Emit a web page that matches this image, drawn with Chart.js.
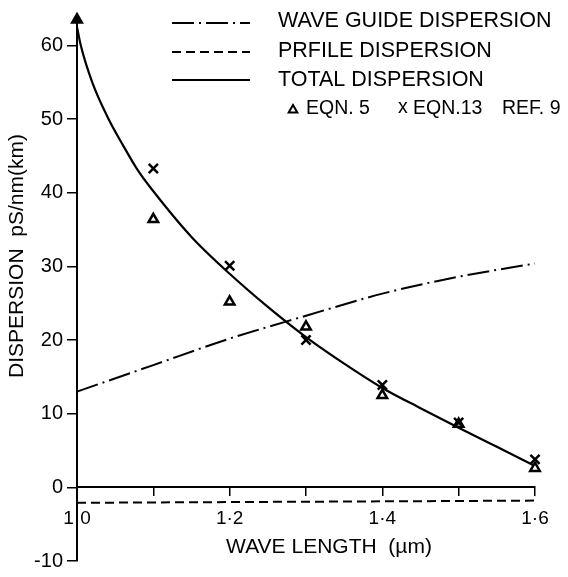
<!DOCTYPE html>
<html>
<head>
<meta charset="utf-8">
<script src="https://cdn.jsdelivr.net/npm/chart.js@4/dist/chart.umd.min.js"></script>
<style>
  html,body{margin:0;padding:0;background:#fff;}
  #wrap{width:568px;height:577px;position:relative;}
</style>
</head>
<body>
<div id="wrap"><canvas id="c" width="568" height="577"></canvas></div>
<script>
// ---- data ----
const waveLength      = [1.0, 1.1, 1.2, 1.3, 1.4, 1.5, 1.6];
const waveguideDisp   = [13.0, 16.6, 20.2, 23.3, 26.3, 28.6, 30.4];
const profileWl       = [1.0, 1.6];
const profileDisp     = [-2.1, -1.8];
const totalWl   = [1.0, 1.005, 1.02, 1.04, 1.06, 1.08, 1.1, 1.15, 1.2, 1.25, 1.3, 1.35, 1.4, 1.45, 1.5, 1.55, 1.6];
const totalDisp = [62.5, 60.0, 55.0, 50.3, 46.5, 43.0, 40.2, 34.0, 29.0, 24.5, 20.4, 16.8, 13.5, 10.75, 8.1, 5.5, 2.9];
const eqn5Wl    = [1.0, 1.1, 1.2, 1.3, 1.4, 1.5, 1.6];
const eqn5Disp  = [63.5, 36.4, 25.2, 21.8, 12.5, 8.6, 2.6];
const eqn13Wl   = [1.1, 1.2, 1.3, 1.4, 1.5, 1.6];
const eqn13Disp = [43.3, 30.1, 20.0, 13.9, 8.8, 3.8];
const yTicks    = [-10, 0, 10, 20, 30, 40, 50, 60];
const seriesLabels = ['WAVE GUIDE DISPERSION', 'PRFILE DISPERSION', 'TOTAL DISPERSION'];
const markerLabels = ['EQN. 5', 'x', 'EQN.13', 'REF. 9'];
const xTitle = 'WAVE LENGTH  (\u00B5m)';
const yTitle = 'DISPERSION  pS/nm(km)';

const pts = (xs, ys) => xs.map((x, i) => ({x: x, y: ys[i]}));
const FONT = '"Liberation Sans", Arial, sans-serif';

const dashWG = [22, 5, 2, 5];
const dashPR = [9, 5];

const annot = {
  id: 'annot',
  afterDraw(chart) {
    const ctx = chart.ctx;
    ctx.save();
    ctx.fillStyle = '#000';
    ctx.strokeStyle = '#000';
    ctx.textBaseline = 'middle';
    ctx.textAlign = 'left';
    ctx.font = '21.5px ' + FONT;
    const rows = [
      {y: 21, ly: 23, dash: dashWG},
      {y: 51, ly: 52, dash: dashPR},
      {y: 80, ly: 80, dash: []}
    ];
    rows.forEach((r, i) => {
      ctx.lineWidth = 2;
      ctx.setLineDash(r.dash);
      ctx.beginPath();
      ctx.moveTo(172, r.ly);
      ctx.lineTo(250, r.ly);
      ctx.stroke();
      ctx.setLineDash([]);
      ctx.fillText(seriesLabels[i], 278, r.y);
    });
    // marker key row
    ctx.font = '19.5px ' + FONT;
    ctx.fillStyle = '#fff';
    Chart.helpers.drawPoint(ctx, {pointStyle: 'triangle', radius: 5, borderWidth: 2.5, rotation: 0}, 293, 110);
    ctx.fillStyle = '#000';
    ctx.fillText(markerLabels[0], 306, 109);
    ctx.fillText(markerLabels[1], 398, 108);
    ctx.fillText(markerLabels[2], 413, 109);
    ctx.fillText(markerLabels[3], 502, 109);
    // axis titles
    ctx.font = '21px ' + FONT;
    ctx.textAlign = 'center';
    ctx.fillText(xTitle, 329, 547);
    ctx.save();
    ctx.translate(17, 256);
    ctx.rotate(-Math.PI / 2);
    ctx.fillText(yTitle, 0, 0);
    ctx.restore();
    ctx.restore();
  }
};

new Chart(document.getElementById('c'), {
  type: 'scatter',
  data: {
    datasets: [
      {
        label: 'EQN. 13 REF. 9',
        data: pts(eqn13Wl, eqn13Disp),
        pointStyle: 'crossRot',
        pointRadius: 6.5,
        pointBorderWidth: 2.5,
        borderColor: '#000',
        backgroundColor: '#000',
        order: 0
      },
      {
        label: 'EQN. 5',
        data: pts(eqn5Wl, eqn5Disp),
        pointStyle: 'triangle',
        pointRadius: 5.5,
        pointBorderWidth: 2.5,
        borderColor: '#000',
        pointBackgroundColor: eqn5Wl.map((w, i) => i === 0 ? '#000' : '#fff'),
        order: 0
      },
      {
        label: seriesLabels[2],
        data: pts(totalWl, totalDisp),
        showLine: true,
        borderColor: '#000',
        borderWidth: 2.2,
        pointRadius: 0,
        cubicInterpolationMode: 'monotone',
        order: 1
      },
      {
        label: seriesLabels[0],
        data: pts(waveLength, waveguideDisp),
        showLine: true,
        borderColor: '#000',
        borderWidth: 2,
        borderDash: dashWG,
        pointRadius: 0,
        cubicInterpolationMode: 'monotone',
        order: 2
      },
      {
        label: seriesLabels[1],
        data: pts(profileWl, profileDisp),
        showLine: true,
        borderColor: '#000',
        borderWidth: 2,
        borderDash: dashPR,
        pointRadius: 0,
        order: 2
      }
    ]
  },
  options: {
    responsive: false,
    animation: false,
    clip: false,
    layout: {padding: {top: 10, bottom: 12, right: 33, left: 0}},
    plugins: {legend: {display: false}, tooltip: {enabled: false}},
    scales: {
      x: {
        type: 'linear',
        min: 1.0,
        max: 1.6,
        position: {y: 0},
        grid: {drawOnChartArea: false, drawTicks: true, color: '#000', lineWidth: 1.5, tickLength: 8},
        border: {display: true, color: '#000', width: 2},
        ticks: {
          stepSize: 0.1,
          autoSkip: false,
          maxRotation: 0,
          color: '#000',
          padding: 12,
          font: {family: FONT, size: 19},
          callback: (v) => {
            const k = Math.round(v * 10);
            return k % 2 === 0 ? (k / 10).toFixed(1).replace('.', '\u00B7') : '';
          }
        }
      },
      y: {
        min: -10,
        max: 64,
        grid: {drawOnChartArea: false, drawTicks: true, color: '#000', lineWidth: 1.5, tickLength: 10},
        border: {display: true, color: '#000', width: 2},
        afterBuildTicks: (s) => { s.ticks = yTicks.map(v => ({value: v})); },
        afterFit: (s) => { s.width = 77; },
        ticks: {
          color: '#000',
          padding: 4,
          font: {family: FONT, size: 20},
          callback: (v) => String(v)
        }
      }
    }
  },
  plugins: [annot]
});
</script>
</body>
</html>
